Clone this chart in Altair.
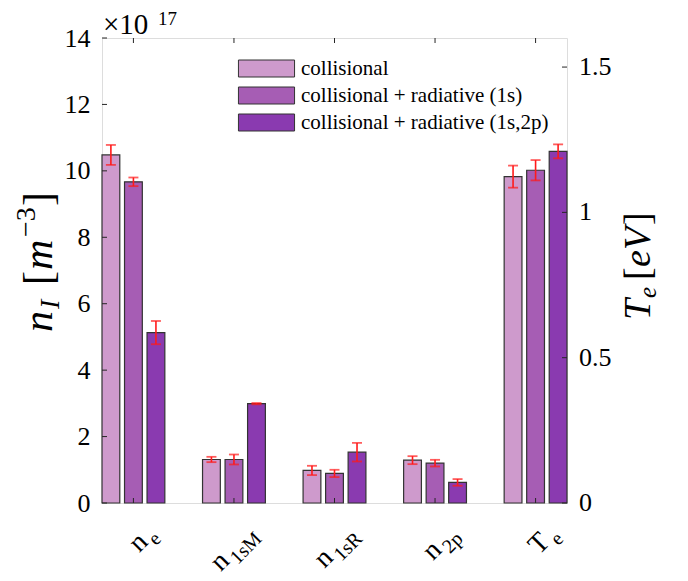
import altair as alt
import pandas as pd

# ---------------- data ----------------
categories = ["n_e", "n_1sM", "n_1sR", "n_2p", "T_e"]
label_base = ["n", "n", "n", "n", "T"]
label_sub = ["e", "1sM", "1sR", "2p", "e"]
series = ["collisional", "collisional + radiative (1s)", "collisional + radiative (1s,2p)"]
colors = ["#CE9ACC", "#A65DB4", "#8A3AB0"]

density_cats = ["n_e", "n_1sM", "n_1sR", "n_2p"]
dens_coll = [10.48, 1.31, 0.98, 1.29]
dens_coll_err = [0.30, 0.08, 0.14, 0.12]
dens_rad1s = [9.67, 1.31, 0.89, 1.20]
dens_rad1s_err = [0.13, 0.15, 0.11, 0.10]
dens_rad2p = [5.13, 2.99, 1.53, 0.62]
dens_rad2p_err = [0.35, 0.02, 0.28, 0.10]

te_cat = "T_e"
te_vals = [1.123, 1.145, 1.210]
te_err = [0.038, 0.035, 0.024]

n_ticks = [0, 2, 4, 6, 8, 10, 12, 14]
te_ticks = [0, 0.5, 1, 1.5]
te_tick_labels = ["0", "0.5", "1", "1.5"]

# ---------------- tables ----------------
rows = []
for s, vals, errs in zip(series, [dens_coll, dens_rad1s, dens_rad2p],
                         [dens_coll_err, dens_rad1s_err, dens_rad2p_err]):
    for c, v, e in zip(density_cats, vals, errs):
        rows.append({"cat": c, "series": s, "val": v, "lo": v - e, "hi": v + e})
dens = pd.DataFrame(rows)

te = pd.DataFrame({"cat": [te_cat] * 3, "series": series, "val": te_vals,
                   "lo": [v - e for v, e in zip(te_vals, te_err)],
                   "hi": [v + e for v, e in zip(te_vals, te_err)]})

W = 465
H = 465
FONT = "Times New Roman, Liberation Serif, serif"
AX = "#262626"
RED = "#FF1A1A"

x_enc = alt.X("cat:N", scale=alt.Scale(domain=categories, paddingInner=0.375, paddingOuter=0), axis=None)
xo_enc = alt.XOffset("series:N", scale=alt.Scale(domain=series, paddingInner=0.21, paddingOuter=0))
legend = alt.Legend(title=None, orient="none", legendX=154, legendY=20,
                    symbolType="M-3.3,-1L3.3,-1L3.3,1L-3.3,1Z", symbolSize=289,
                    symbolStrokeColor="#333333", symbolStrokeWidth=1, symbolOpacity=1,
                    labelFont=FONT, labelFontSize=21, labelColor="black", labelOffset=24,
                    labelLimit=500, rowPadding=5, padding=0)
color_enc = alt.Color("series:N", scale=alt.Scale(domain=series, range=colors), legend=legend)

n_axis = alt.Axis(values=n_ticks, title=None, ticks=False, tickSize=0, domain=False, grid=False,
                  labelFont=FONT, labelFontSize=26, labelColor="black", labelPadding=12,
                  labelAlign="right")
n_scale = alt.Scale(domain=[0, 14], nice=False, zero=True)
te_scale = alt.Scale(domain=[0, 1.6], nice=False, zero=True)


def group(df, scale, axis, tick_vals, tick_x):
    bars = alt.Chart(df).mark_bar(stroke="#333333", strokeWidth=1.2).encode(
        x=x_enc, xOffset=xo_enc, y=alt.Y("val:Q", scale=scale, axis=axis), color=color_enc)
    rule = alt.Chart(df).mark_rule(color=RED, strokeWidth=1.6).encode(
        x=x_enc, xOffset=xo_enc, y=alt.Y("lo:Q", scale=scale, axis=axis), y2="hi:Q")
    caps = alt.Chart(df).transform_fold(["lo", "hi"], as_=["k", "v"]).mark_tick(
        color=RED, size=10, thickness=1.8, orient="horizontal").encode(
        x=x_enc, xOffset=xo_enc, y=alt.Y("v:Q", scale=scale, axis=axis))
    ticks = alt.Chart(pd.DataFrame({"v": tick_vals})).mark_rule(color=AX, strokeWidth=1).encode(
        y=alt.Y("v:Q", scale=scale, axis=axis), x=alt.value(tick_x[0]), x2=alt.value(tick_x[1]))
    return [bars, rule, caps, ticks]


n_layer = alt.layer(*group(dens, n_scale, n_axis, n_ticks, (0, 5)))
te_labels = alt.Chart(pd.DataFrame({"v": te_ticks, "lab": te_tick_labels})).mark_text(
    align="left", baseline="middle", dx=12, font=FONT, fontSize=26, color="black").encode(
    y=alt.Y("v:Q", scale=te_scale, axis=None), x=alt.value(W), text="lab:N")
te_layer = alt.layer(*group(te, te_scale, None, te_ticks, (W - 5, W)), te_labels)

catdf = pd.DataFrame({"cat": categories, "base": label_base, "sub": label_sub})
xticks_bottom = alt.Chart(catdf).mark_rule(color=AX, strokeWidth=1).encode(
    x=x_enc, y=alt.value(H - 5), y2=alt.value(H))
xticks_top = alt.Chart(catdf).mark_rule(color=AX, strokeWidth=1).encode(
    x=x_enc, y=alt.value(0), y2=alt.value(5))

# rotated category labels (base letter + subscript)
char_w = {"1": 0.5, "2": 0.5, "s": 0.389, "M": 0.889, "R": 0.667, "p": 0.5, "e": 0.444}
SUB_FS = 20
BASE_FS = 28
LAB_DX = 41
LAB_Y = 531
sub_layer = alt.Chart(catdf).mark_text(angle=315, align="right", baseline="alphabetic",
                                        dx=LAB_DX, font=FONT, fontSize=SUB_FS, color="black").encode(
    x=x_enc, y=alt.value(LAB_Y), text="sub:N")
base_layers = []
for c, b, s in zip(categories, label_base, label_sub):
    w = sum(char_w[ch] for ch in s) * SUB_FS
    base_layers.append(
        alt.Chart(pd.DataFrame({"cat": [c], "base": [b]})).mark_text(
            angle=315, align="right", baseline="alphabetic", dx=LAB_DX - w - 3, dy=-7,
            font=FONT, fontSize=BASE_FS, color="black").encode(
            x=x_enc, y=alt.value(LAB_Y), text="base:N"))


def piece(txt, x, y, dx, dy, size, italic, angle=270):
    kw = dict(align="left", baseline="alphabetic", dx=dx, dy=dy, font=FONT,
              fontSize=size, color="black")
    if angle:
        kw["angle"] = angle
    if italic:
        kw["fontStyle"] = "italic"
    return alt.Chart(pd.DataFrame({"t": [txt]})).mark_text(**kw).encode(
        x=alt.value(x), y=alt.value(y), text="t:N")


LX, LY = -50, 294
left_title = [
    piece("n", LX, LY, 0, 0, 42, True),
    piece("I", LX, LY, 23, 7, 28, True),
    piece("[", LX, LY, 47, 0, 42, False),
    piece("m", LX, LY, 62, 0, 42, True),
    piece("\u22123", LX, LY, 95, -17, 28, False),
    piece("]", LX, LY, 126, 0, 42, False),
]
RX, RY = 548, 282
right_title = [
    piece("T", RX, RY, 0, 0, 38, True),
    piece("e", RX, RY, 22, 6, 25, True),
    piece("[", RX, RY, 40, 0, 38, False),
    piece("e", RX, RY, 53, 0, 38, True),
    piece("V", RX, RY, 70, 0, 38, True),
    piece("]", RX, RY, 95, 0, 38, False),
]
exponent = [
    piece("\u00d710", 1, -4, 0, 0, 29, False, angle=0),
    piece("17", 1, -13, 55, 0, 19, False, angle=0),
]

chart = alt.layer(
    n_layer, te_layer, xticks_bottom, xticks_top, sub_layer, *base_layers,
    *left_title, *right_title, *exponent
).resolve_scale(y="independent").properties(
    width=W, height=H,
    autosize=alt.AutoSizeParams(type="none"),
    padding={"left": 94, "top": 30, "right": 110, "bottom": 78},
).configure_view(stroke=AX, strokeWidth=1).configure(background="white")

chart.save("out.html", embed_options={"renderer": "svg", "actions": False})
